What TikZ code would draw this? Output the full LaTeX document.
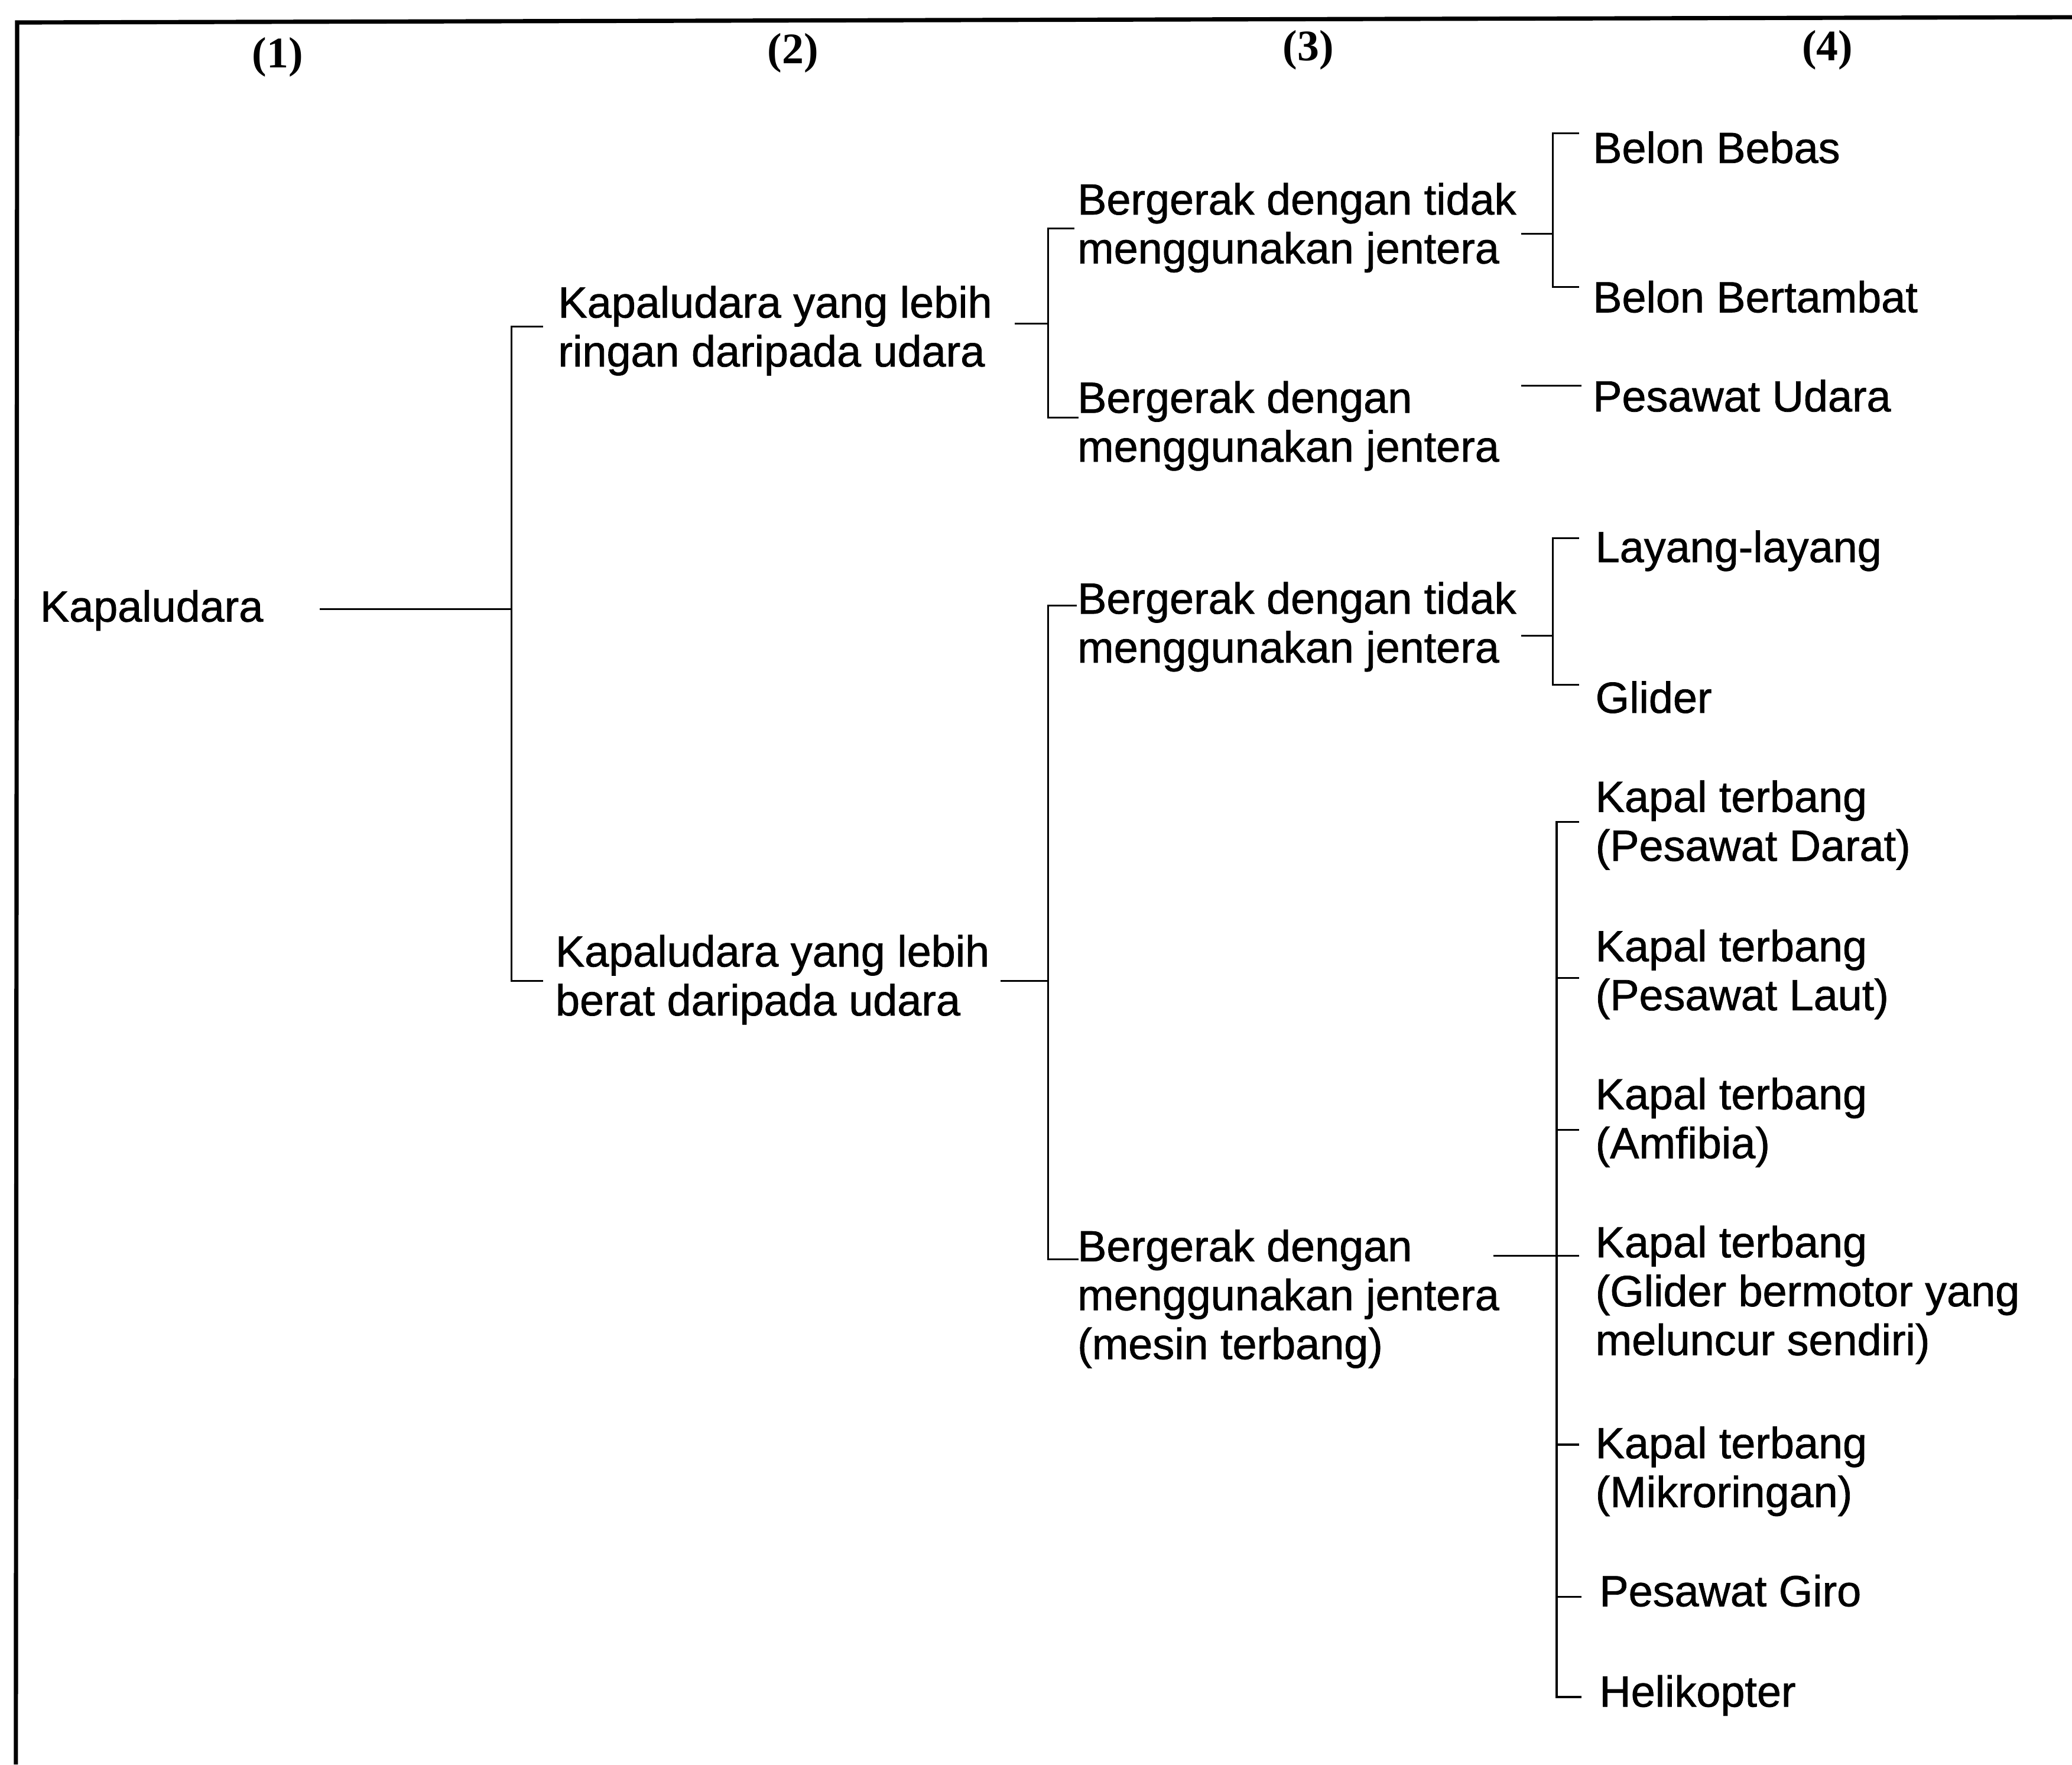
\documentclass[tikz,border=0pt]{standalone}
\usepackage{fontspec}
\setmainfont[FakeBold=1]{Liberation Sans}
\newfontfamily\bodyfont[FakeBold=1]{Liberation Sans}
\newfontfamily\hdfont{Liberation Serif}
\begin{document}
\begin{tikzpicture}[x=0.5pt,y=-0.5pt,
  txt/.style={anchor=north west, inner sep=0pt, align=left, font=\bodyfont\fontsize{16.5}{18.5}\selectfont},
  hd/.style={anchor=base, inner sep=0pt, font=\hdfont\bfseries\fontsize{16.5}{18}\selectfont},
  ln/.style={line width=0.7pt},
  frame/.style={line width=1.6pt}]
\useasboundingbox (0,0) rectangle (1568,1335);
% frame (top and left edges only)
\coordinate (fTL) at (13,17);
\coordinate (fTR) at (1568,13);
\coordinate (fBL) at (12,1335);
\draw[frame] (fTR) -- (fTL) -- (fBL);
% headers
\node[hd] (h1) at (210,51) {(1)};
\node[hd] (h2) at (600,48) {(2)};
\node[hd] (h3) at (990,46) {(3)};
\node[hd] (h4) at (1383,46) {(4)};
% level 1
\node[txt] (k) at (30,444) {\strut Kapaludara};
% level 2
\node[txt] (l2a) at (422,214) {\strut Kapaludara yang lebih\\ringan daripada udara};
\node[txt] (l2b) at (420,705) {\strut Kapaludara yang lebih\\berat daripada udara};
% level 3
\node[txt] (l3a) at (815,136) {\strut Bergerak dengan tidak\\menggunakan jentera};
\node[txt] (l3b) at (815,286) {\strut Bergerak dengan\\menggunakan jentera};
\node[txt] (l3c) at (815,438) {\strut Bergerak dengan tidak\\menggunakan jentera};
\node[txt] (l3d) at (815,928) {\strut Bergerak dengan\\menggunakan jentera\\(mesin terbang)};
% level 4
\node[txt] (b1) at (1205,97) {\strut Belon Bebas};
\node[txt] (b2) at (1205,210) {\strut Belon Bertambat};
\node[txt] (pu) at (1205,285) {\strut Pesawat Udara};
\node[txt] (ll) at (1207,399) {\strut Layang-layang};
\node[txt] (gl) at (1207,513) {\strut Glider};
\node[txt] (k1) at (1207,588) {\strut Kapal terbang\\(Pesawat Darat)};
\node[txt] (k2) at (1207,701) {\strut Kapal terbang\\(Pesawat Laut)};
\node[txt] (k3) at (1207,813) {\strut Kapal terbang\\(Amfibia)};
\node[txt] (k4) at (1207,925) {\strut Kapal terbang\\(Glider bermotor yang\\meluncur sendiri)};
\node[txt] (k5) at (1207,1077) {\strut Kapal terbang\\(Mikroringan)};
\node[txt] (pg) at (1210,1189) {\strut Pesawat Giro};
\node[txt] (hk) at (1210,1265) {\strut Helikopter};
% connector points
\coordinate (kout) at (242,461);
\coordinate (j1) at (387,461);
\coordinate (j1t) at (387,247);
\coordinate (ain) at (411,247);
\coordinate (j1b) at (387,742);
\coordinate (bin) at (411,742);
\draw[ln] (kout) -- (j1);
\draw[ln] (ain) -- (j1t) -- (j1b) -- (bin);
% from l2a
\coordinate (aout) at (768,245);
\coordinate (j2) at (793,245);
\coordinate (j2t) at (793,173);
\coordinate (j2b) at (793,316);
\coordinate (l3ain) at (813,173);
\coordinate (l3bin) at (816,316);
\draw[ln] (aout) -- (j2);
\draw[ln] (l3ain) -- (j2t) -- (j2b) -- (l3bin);
% from l2b
\coordinate (bout) at (757,742);
\coordinate (j3) at (793,742);
\coordinate (j3t) at (793,458);
\coordinate (j3b) at (793,953);
\coordinate (l3cin) at (815,458);
\coordinate (l3din) at (816,953);
\draw[ln] (bout) -- (j3);
\draw[ln] (l3cin) -- (j3t) -- (j3b) -- (l3din);
% from l3a
\coordinate (l3aout) at (1151,177);
\coordinate (j4) at (1175,177);
\coordinate (j4t) at (1175,101);
\coordinate (j4b) at (1175,217);
\coordinate (b1in) at (1195,101);
\coordinate (b2in) at (1195,217);
\draw[ln] (l3aout) -- (j4);
\draw[ln] (b1in) -- (j4t) -- (j4b) -- (b2in);
% from l3b
\coordinate (l3bout) at (1151,292);
\coordinate (puin) at (1197,292);
\draw[ln] (l3bout) -- (puin);
% from l3c
\coordinate (l3cout) at (1151,481);
\coordinate (j5) at (1175,481);
\coordinate (j5t) at (1175,407);
\coordinate (j5b) at (1175,518);
\coordinate (llin) at (1195,407);
\coordinate (glin) at (1195,518);
\draw[ln] (l3cout) -- (j5);
\draw[ln] (llin) -- (j5t) -- (j5b) -- (glin);
% from l3d
\coordinate (l3dout) at (1130,950);
\coordinate (k4in) at (1195,950);
\coordinate (j6t) at (1178,622);
\coordinate (j6b) at (1178,1284);
\coordinate (k1in) at (1195,622);
\coordinate (hkin) at (1197,1284);
\coordinate (j6k2) at (1178,740);
\coordinate (k2in) at (1195,740);
\coordinate (j6k3) at (1178,855);
\coordinate (k3in) at (1195,855);
\coordinate (j6k5) at (1178,1093);
\coordinate (k5in) at (1195,1093);
\coordinate (j6pg) at (1178,1208);
\coordinate (pgin) at (1197,1208);
\draw[ln] (l3dout) -- (k4in);
\draw[ln] (k1in) -- (j6t) -- (j6b) -- (hkin);
\draw[ln] (j6k2) -- (k2in);
\draw[ln] (j6k3) -- (k3in);
\draw[ln] (j6k5) -- (k5in);
\draw[ln] (j6pg) -- (pgin);
\end{tikzpicture}
\end{document}
